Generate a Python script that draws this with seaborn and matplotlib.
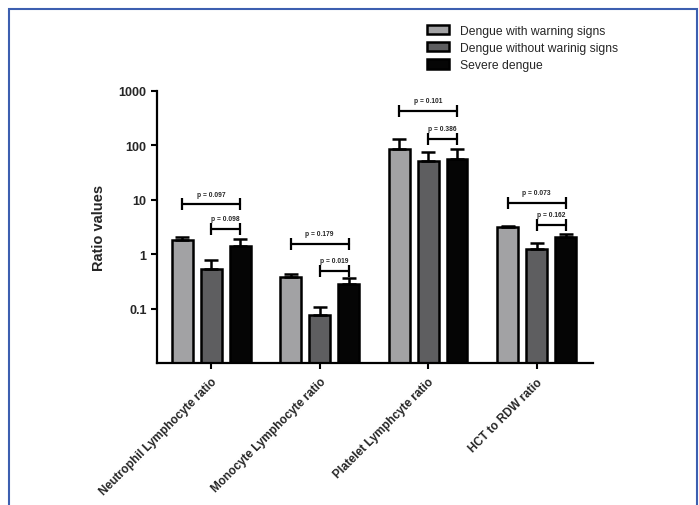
import matplotlib
matplotlib.use("Agg")
import matplotlib.pyplot as plt
import seaborn as sns
import pandas as pd
import numpy as np
from matplotlib.patches import Rectangle, Patch

categories = ["Neutrophil Lymphocyte ratio", "Monocyte Lymphocyte ratio",
              "Platelet Lymphcyte ratio", "HCT to RDW ratio"]
groups = ["Dengue with warning signs", "Dengue without warinig signs", "Severe dengue"]
colors = ["#a2a2a4", "#5e5e60", "#050505"]

mean_warning = [1.8, 0.38, 87, 3.1]
mean_without = [0.53, 0.077, 52, 1.23]
mean_severe = [1.4, 0.28, 57, 2.05]
err_top_warning = [2.1, 0.43, 132, 3.3]
err_top_without = [0.78, 0.107, 76, 1.59]
err_top_severe = [1.88, 0.36, 87, 2.4]

long_p = ["p = 0.097", "p = 0.179", "p = 0.101", "p = 0.073"]
short_p = ["p = 0.098", "p = 0.019", "p = 0.386", "p = 0.162"]
long_y = [8.2, 1.52, 427, 8.9]
short_y = [2.86, 0.49, 132, 3.5]

means = [mean_warning, mean_without, mean_severe]
tops = [err_top_warning, err_top_without, err_top_severe]

rows = []
for g, vals in zip(groups, means):
    for c, v in zip(categories, vals):
        rows.append({"cat": c, "group": g, "val": v})
df = pd.DataFrame(rows)

sns.set_style("ticks")
plt.rcParams["font.family"] = ["Liberation Sans", "DejaVu Sans"]

fig = plt.figure(figsize=(6.99, 5.06), dpi=100)
ax = fig.add_axes([157/699, 1-364/506, 436/699, 272/506])
ax.set_yscale("log")

sns.barplot(data=df, x="cat", y="val", hue="group", order=categories,
            hue_order=groups, palette=colors, width=0.8, gap=0.28,
            edgecolor="black", linewidth=1.8, errorbar=None, ax=ax,
            legend=False)

centers = {}
for gi, cont in enumerate(ax.containers):
    centers[gi] = [p.get_x() + p.get_width() / 2 for p in cont.patches]

for gi in range(3):
    xs = centers[gi]
    vals = np.array(means[gi])
    tp = np.array(tops[gi])
    ax.errorbar(xs, vals, yerr=[np.zeros_like(vals), tp - vals], fmt="none",
                ecolor="black", elinewidth=1.8, capsize=5, capthick=1.8, zorder=5)

for ci in range(4):
    x0, x1, x2 = centers[0][ci], centers[1][ci], centers[2][ci]
    ax.plot([x0, x2], [long_y[ci], long_y[ci]], color="black", lw=1.6,
            marker="|", ms=9, mew=1.6, zorder=6)
    ax.plot([x1, x2], [short_y[ci], short_y[ci]], color="black", lw=1.6,
            marker="|", ms=9, mew=1.6, zorder=6)
    ax.annotate(long_p[ci], ((x0 + x2) / 2, long_y[ci]), xytext=(0, 5),
                textcoords="offset points", ha="center", va="bottom",
                fontsize=4.8, fontweight="bold")
    ax.annotate(short_p[ci], ((x1 + x2) / 2, short_y[ci]), xytext=(0, 5),
                textcoords="offset points", ha="center", va="bottom",
                fontsize=4.8, fontweight="bold")

ax.set_ylim(0.01, 1000)
ax.set_xlim(-0.5, 3.52)
ax.set_yticks([0.1, 1, 10, 100, 1000])
ax.set_yticklabels(["0.1", "1", "10", "100", "1000"])
ax.minorticks_off()
ax.tick_params(axis="both", length=4, width=1.5, color="black", labelsize=9)
ax.tick_params(axis="x", pad=5)
for lab in ax.get_yticklabels():
    lab.set_fontweight("bold")
ax.set_xticks(range(4))
ax.set_xticklabels(categories, rotation=45, ha="right", rotation_mode="anchor",
                   fontsize=8.5, fontweight="bold")
ax.set_xlabel("")
ax.set_ylabel("Ratio values", fontsize=10.5, fontweight="bold", labelpad=9)
for s in ["top", "right"]:
    ax.spines[s].set_visible(False)
for s in ["left", "bottom"]:
    ax.spines[s].set_linewidth(1.6)
    ax.spines[s].set_color("black")

handles = [Patch(facecolor=c, edgecolor="black", linewidth=1.8) for c in colors]
fig.legend(handles, groups, loc="upper left", bbox_to_anchor=(427/699, 1-26/506),
           frameon=False, fontsize=8.7, handlelength=1.8, handleheight=0.8,
           labelspacing=0.42, handletextpad=0.9, borderaxespad=0, borderpad=0)

fig.add_artist(Rectangle((9/699, -0.05), (697-9)/699, 1.05 - 10/506,
                         transform=fig.transFigure, fill=False,
                         edgecolor="#3d5fb0", linewidth=1.5))

fig.savefig("out.png", dpi=100)
